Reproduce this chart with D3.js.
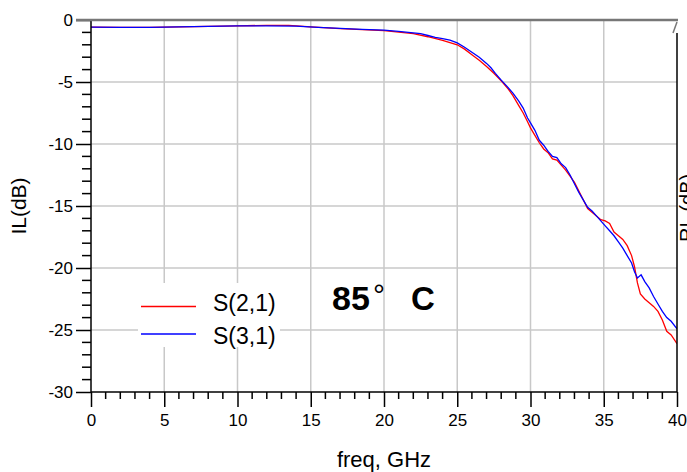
<!DOCTYPE html>
<html>
<head>
<meta charset="utf-8">
<script src="https://cdn.jsdelivr.net/npm/d3@7"></script>
<style>
  body { margin: 0; background: #fff; }
  svg { display: block; font-family: "Liberation Sans", Arial, sans-serif; }
</style>
</head>
<body>
<div id="chart"></div>
<script>
const WIDTH = 687
const HEIGHT = 472

// S(2,1) - red
const s21Freq = [0, 2, 4, 6, 8, 10, 12, 13.5, 15, 17, 20, 22, 23, 24, 25, 25.5, 26, 26.5, 27, 27.5, 28, 28.5, 28.8, 29.2, 29.5, 29.8, 30, 30.3, 30.6, 30.9, 31.2, 31.5, 31.8, 32.1, 32.4, 32.7, 33, 33.3, 33.6, 33.9, 34.2, 34.5, 34.8, 35.1, 35.4, 35.7, 36, 36.3, 36.6, 36.9, 37.1, 37.3, 37.5, 37.8, 38.1, 38.4, 38.7, 39, 39.3, 39.6, 40]
const s21 = [-0.57, -0.6, -0.6, -0.55, -0.52, -0.47, -0.43, -0.43, -0.55, -0.7, -0.85, -1.1, -1.35, -1.65, -2.0, -2.35, -2.8, -3.25, -3.75, -4.3, -4.9, -5.6, -6.1, -6.9, -7.5, -8.2, -8.7, -9.3, -9.9, -10.4, -10.7, -11.2, -11.3, -11.7, -12.1, -12.6, -13.1, -13.8, -14.5, -15.2, -15.5, -15.8, -16.1, -16.2, -16.4, -17.1, -17.4, -17.7, -18.2, -19.0, -19.9, -21.2, -22.1, -22.5, -22.8, -23.1, -23.5, -24.2, -25.1, -25.4, -26.1]

// S(3,1) - blue
const s31Freq = [0, 2, 4, 6, 8, 10, 12, 14, 15.5, 17, 18.5, 20, 21, 22, 22.5, 23, 23.5, 24, 24.5, 25, 25.5, 26, 26.5, 27, 27.3, 27.6, 28, 28.4, 28.8, 29.2, 29.5, 29.8, 30, 30.3, 30.6, 30.9, 31.2, 31.5, 31.8, 32.1, 32.4, 32.7, 33, 33.3, 33.6, 33.9, 34.2, 34.5, 34.8, 35.1, 35.4, 35.7, 36, 36.3, 36.6, 36.9, 37.1, 37.3, 37.55, 37.8, 38.1, 38.4, 38.7, 39, 39.3, 39.6, 40]
const s31 = [-0.57, -0.6, -0.6, -0.55, -0.52, -0.48, -0.47, -0.5, -0.6, -0.68, -0.75, -0.82, -0.92, -1.03, -1.1, -1.25, -1.4, -1.5, -1.62, -1.85, -2.2, -2.6, -3.0, -3.5, -3.85, -4.3, -4.85, -5.35, -5.9, -6.55, -7.1, -7.9, -8.3, -8.9, -9.7, -10.1, -10.6, -11.0, -11.1, -11.6, -11.9, -12.5, -13.2, -13.9, -14.5, -15.1, -15.4, -15.8, -16.2, -16.6, -17.0, -17.4, -17.9, -18.4, -19.0, -19.6, -20.3, -20.8, -20.55, -21.1, -21.6, -22.3, -22.9, -23.5, -24.0, -24.3, -24.9]

const xTicks = [0, 5, 10, 15, 20, 25, 30, 35, 40]
const yTicks = [0, -5, -10, -15, -20, -25, -30]
const xMinor = d3.range(0, 41, 1)
const yMinor = d3.range(0, -31, -1)

const pLeft = 91, pRight = 677, pTop = 20, pBottom = 392

const x = d3.scaleLinear().domain([0, 40]).range([pLeft, pRight])
const y = d3.scaleLinear().domain([0, -30]).range([pTop, pBottom])

const svg = d3.select('#chart').append('svg')
  .attr('width', WIDTH)
  .attr('height', HEIGHT)

// grid
svg.append('g').selectAll('line')
  .data(xTicks.slice(1, -1))
  .join('line')
  .attr('x1', d => x(d)).attr('x2', d => x(d))
  .attr('y1', pTop).attr('y2', pBottom)
  .attr('stroke', '#c8c8c8').attr('stroke-width', 1.5)

svg.append('g').selectAll('line')
  .data(yTicks.slice(1, -1))
  .join('line')
  .attr('x1', pLeft).attr('x2', pRight)
  .attr('y1', d => y(d)).attr('y2', d => y(d))
  .attr('stroke', '#c8c8c8').attr('stroke-width', 1.5)

// curves
svg.append('clipPath').attr('id', 'clip')
  .append('rect').attr('x', pLeft).attr('y', pTop).attr('width', pRight - pLeft).attr('height', pBottom - pTop)

const line = d3.line().x(d => x(d[0])).y(d => y(d[1]))

svg.append('path')
  .datum(d3.zip(s21Freq, s21))
  .attr('d', line)
  .attr('fill', 'none').attr('stroke', '#ff0000').attr('stroke-width', 1.3)
  .attr('clip-path', 'url(#clip)')

svg.append('path')
  .datum(d3.zip(s31Freq, s31))
  .attr('d', line)
  .attr('fill', 'none').attr('stroke', '#0000ff').attr('stroke-width', 1.3)
  .attr('clip-path', 'url(#clip)')

// axes
const fmt = d => String(d)

const yAxis = svg.append('g')
  .attr('transform', `translate(${pLeft},0)`)
  .call(d3.axisLeft(y).tickValues(yTicks).tickSize(15).tickPadding(3).tickFormat(fmt))
yAxis.select('.domain').remove()
yAxis.selectAll('.tick line').attr('stroke', '#000').attr('stroke-width', 1.5)
yAxis.selectAll('text').attr('font-size', 17).attr('fill', '#000').attr('font-family', 'Liberation Sans, Arial, sans-serif')

svg.append('g').selectAll('line')
  .data(yMinor.filter(d => d % 5 !== 0))
  .join('line')
  .attr('x1', pLeft - 9).attr('x2', pLeft)
  .attr('y1', d => y(d)).attr('y2', d => y(d))
  .attr('stroke', '#000').attr('stroke-width', 1.5)

const xAxis = svg.append('g')
  .attr('transform', `translate(0,${pBottom})`)
  .call(d3.axisBottom(x).tickValues(xTicks).tickSize(15).tickPadding(7).tickFormat(fmt))
xAxis.select('.domain').remove()
xAxis.selectAll('.tick line').attr('stroke', '#000').attr('stroke-width', 1.5)
xAxis.selectAll('text').attr('font-size', 17).attr('fill', '#000').attr('font-family', 'Liberation Sans, Arial, sans-serif')

svg.append('g').selectAll('line')
  .data(xMinor.filter(d => d % 5 !== 0))
  .join('line')
  .attr('x1', d => x(d)).attr('x2', d => x(d))
  .attr('y1', pBottom).attr('y2', pBottom + 7)
  .attr('stroke', '#000').attr('stroke-width', 1.5)

// axis lines
svg.append('line').attr('x1', pLeft).attr('x2', pLeft).attr('y1', pTop).attr('y2', pBottom)
  .attr('stroke', '#000').attr('stroke-width', 1.5)
svg.append('line').attr('x1', pLeft).attr('x2', pRight).attr('y1', pBottom).attr('y2', pBottom)
  .attr('stroke', '#000').attr('stroke-width', 1.5)
svg.append('line').attr('x1', pRight).attr('x2', pRight).attr('y1', pTop + 13).attr('y2', pBottom)
  .attr('stroke', '#000').attr('stroke-width', 1.5)
svg.append('line').attr('x1', pLeft - 15).attr('x2', pRight + 1).attr('y1', pTop).attr('y2', pTop)
  .attr('stroke', '#777').attr('stroke-width', 2.5)
svg.append('line').attr('x1', pRight - 4).attr('x2', pRight).attr('y1', pTop + 13).attr('y2', pTop + 2)
  .attr('stroke', '#777').attr('stroke-width', 1.5)

// axis titles
svg.append('text')
  .attr('transform', `translate(26,${(pTop + pBottom) / 2}) rotate(-90)`)
  .attr('text-anchor', 'middle')
  .attr('font-size', 21)
  .text('IL(dB)')

svg.append('text')
  .attr('x', (pLeft + pRight) / 2).attr('y', 467)
  .attr('text-anchor', 'middle')
  .attr('font-size', 22)
  .text('freq, GHz')

// right axis title, cut by the window edge as in the original
svg.append('text')
  .attr('transform', 'translate(694,242) rotate(-90)')
  .attr('font-size', 20)
  .text('RL (dB)')

// legend
const legend = svg.append('g')
legend.append('rect').attr('x', 138).attr('y', 283).attr('width', 142).attr('height', 64).attr('fill', '#fff')
const legendItems = [['S(2,1)', '#ff0000', 306.5, 311], ['S(3,1)', '#0000ff', 334, 344]]
legendItems.forEach(([label, color, ly, ty]) => {
  legend.append('line').attr('x1', 141).attr('x2', 196).attr('y1', ly).attr('y2', ly)
    .attr('stroke', color).attr('stroke-width', 1.5)
  legend.append('text').attr('x', 213).attr('y', ty).attr('font-size', 23).text(label)
})

// temperature annotation
svg.append('text').attr('x', 332).attr('y', 310).attr('font-size', 34).attr('font-weight', 'bold').text('85')
svg.append('text').attr('x', 373).attr('y', 305).attr('font-size', 30).text('°')
svg.append('text').attr('x', 411).attr('y', 310).attr('font-size', 33).attr('font-weight', 'bold').text('C')
</script>
</body>
</html>
